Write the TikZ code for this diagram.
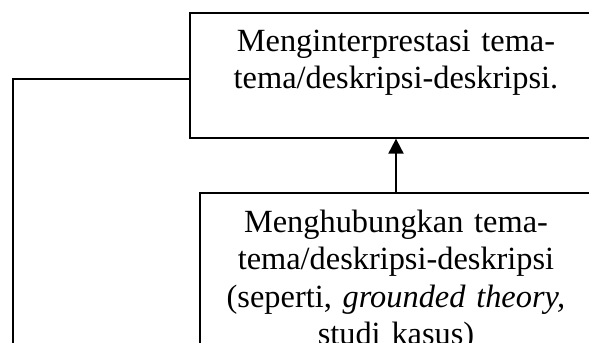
\documentclass[tikz,border=0pt]{standalone}
\usepackage{fontspec}
\setmainfont{Liberation Serif}
\usetikzlibrary{positioning,arrows.meta}
\tikzset{
    stagebox/.style={
        draw,
        line width=0.5pt,
        inner sep=0pt
    },
    stagetext/.style={
        align=center,
        text width=145pt,
        inner sep=0pt,
        font=\fontsize{12.3}{14.2}\selectfont
    },
    flowline/.style={
        line width=0.75pt,
        -{Triangle[length=5.7pt,width=5.7pt]}
    },
    loopline/.style={
        line width=0.9pt
    }
}

\begin{document}
\begin{tikzpicture}[x=0.38pt, y=-0.38pt]
                \useasboundingbox (0,0) rectangle (589,343);
                \clip (0,0) rectangle (589,343);
                \node[stagebox, minimum width=156.6pt, minimum height=47.5pt] (interp) at (396,75.5) {};
                \node[stagetext, below=6.5pt of interp.north] (interptext)
                    {Menginterprestasi tema-\\tema/deskripsi-deskripsi.};
                \node[stagebox, minimum width=149pt, minimum height=90.4pt] (synth) at (396,312) {};
                \node[stagetext, below=6.5pt of synth.north] (synthtext)
                    {Menghubungkan tema-\\tema/deskripsi-deskripsi\\(seperti, \textit{grounded theory,}\\studi kasus)};
                \coordinate (loopend) at (13,400);
                \draw[flowline] (synth) -- (interp);
                \draw[loopline] ([yshift=-1.3pt]interp.west) -| (loopend);
            \end{tikzpicture}
\end{document}
